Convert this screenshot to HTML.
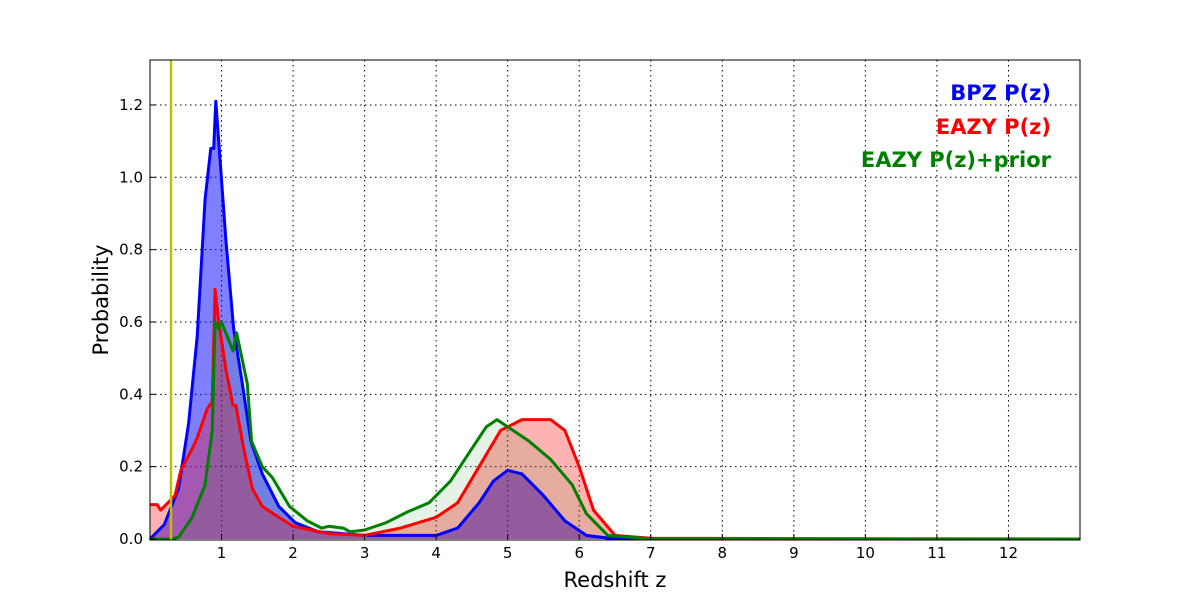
<!DOCTYPE html>
<html><head><meta charset="utf-8"><style>
body{margin:0;background:#fff;}
svg{display:block;font-family:"DejaVu Sans","Liberation Sans",sans-serif;}
</style></head><body>
<svg id="chart" width="1200" height="600" xmlns="http://www.w3.org/2000/svg">
<rect width="1200" height="600" fill="#fff"/>
<g id="grid"></g>
<g id="fills"></g>
<g id="lines"></g>
<line x1="171" y1="60" x2="171" y2="540" stroke="#bfbf00" stroke-width="2.5"/>
<rect x="150" y="60" width="930" height="480" fill="none" stroke="#000" stroke-width="1"/>
<g id="ticks"></g>
<text x="615" y="587" font-size="21" text-anchor="middle">Redshift z</text>
<text transform="translate(108,300) rotate(-90)" font-size="21" text-anchor="middle">Probability</text>
<g font-weight="bold" font-size="21" text-anchor="end">
<text x="1051" y="100" fill="#0000ff">BPZ P(z)</text>
<text x="1051" y="134" fill="#ff0000">EAZY P(z)</text>
<text x="1051" y="167" fill="#008000">EAZY P(z)+prior</text>
</g>
</svg>
<script>
const bpzZ=[0,0.2,0.4,0.54,0.66,0.77,0.85,0.89,0.92,0.96,1.06,1.17,1.29,1.41,1.57,1.8,2.03,2.35,3,4,4.3,4.6,4.8,5,5.2,5.5,5.8,6.1,6.5,13];
const bpzP=[0,0.04,0.14,0.32,0.56,0.94,1.08,1.08,1.21,1.1,0.83,0.58,0.43,0.27,0.18,0.09,0.045,0.02,0.01,0.01,0.03,0.1,0.16,0.19,0.18,0.12,0.05,0.01,0,0];
const eazyZ=[0,0.1,0.15,0.25,0.35,0.43,0.59,0.66,0.8,0.87,0.91,0.96,1.06,1.16,1.2,1.31,1.43,1.57,1.8,2,2.5,3,3.5,4,4.3,4.6,4.9,5.2,5.6,5.8,6,6.2,6.5,7,13];
const eazyP=[0.095,0.095,0.08,0.1,0.12,0.19,0.25,0.28,0.36,0.38,0.69,0.6,0.47,0.37,0.37,0.25,0.14,0.09,0.06,0.035,0.015,0.01,0.03,0.06,0.1,0.2,0.3,0.33,0.33,0.3,0.2,0.08,0.01,0.002,0];
const priorZ=[0,0.3,0.4,0.59,0.77,0.87,0.91,0.96,1,1.16,1.21,1.36,1.42,1.57,1.71,1.95,2.2,2.4,2.5,2.7,2.8,3,3.3,3.6,3.9,4.2,4.5,4.7,4.85,5,5.3,5.6,5.9,6.1,6.4,7,13];
const priorP=[0,0,0.005,0.06,0.15,0.3,0.6,0.58,0.6,0.52,0.57,0.43,0.27,0.2,0.17,0.09,0.05,0.03,0.035,0.03,0.02,0.025,0.045,0.075,0.1,0.16,0.25,0.31,0.33,0.31,0.27,0.22,0.15,0.07,0.01,0,0];
const xTicks=[1,2,3,4,5,6,7,8,9,10,11,12];
const yTicks=[0,0.2,0.4,0.6,0.8,1.0,1.2];
const NS='http://www.w3.org/2000/svg';
const X=z=>150+930*z/13;
const Y=p=>539-361.7*p;
function mk(t,a,parent){const e=document.createElementNS(NS,t);for(const k in a)e.setAttribute(k,a[k]);parent.appendChild(e);return e;}
const grid=document.getElementById('grid'),ticks=document.getElementById('ticks');
xTicks.forEach(v=>{
 const g=mk('line',{x1:X(v),x2:X(v),y1:60,y2:540,stroke:'#000','stroke-width':1,'stroke-dasharray':'1.5,3.5'},grid);
 
 
 const t=mk('line',{x1:X(v),x2:X(v),y1:540,y2:534,stroke:'#000'},ticks);
 
 
 const l=mk('text',{x:X(v),y:558,'font-size':15,'text-anchor':'middle'},ticks);
 l.textContent=v;
 
 
});
yTicks.forEach(v=>{
 if(v>0){const g=mk('line',{x1:150,x2:1080,y1:Y(v),y2:Y(v),stroke:'#000','stroke-width':1,'stroke-dasharray':'1.5,3.5'},grid);
 
 }
 const t=mk('line',{x1:150,x2:156,y1:Y(v),y2:Y(v),stroke:'#000'},ticks);
 
 
 const l=mk('text',{x:143,y:Y(v)+5,'font-size':15,'text-anchor':'end'},ticks);
 l.textContent=v.toFixed(1);
 
 
});
const fills=document.getElementById('fills'),lines=document.getElementById('lines');
function series(zs,ps,col,op,name){
 const pts=zs.map((z,i)=>X(z).toFixed(1)+','+Y(ps[i]).toFixed(1));
 const f=mk('polygon',{points:X(zs[0])+','+Y(0)+' '+pts.join(' ')+' '+X(zs[zs.length-1])+','+Y(0),fill:col,'fill-opacity':op,stroke:'none'},fills);
 
 
 const l=mk('polyline',{points:pts.join(' '),fill:'none',stroke:col,'stroke-width':3,'stroke-linejoin':'round'},lines);
 
 
}
series(bpzZ,bpzP,'#0000ff',0.5,'bpz');
series(eazyZ,eazyP,'#ff0000',0.3,'eazy');
series(priorZ,priorP,'#008000',0.1,'eazy-prior');
</script>
</body></html>
